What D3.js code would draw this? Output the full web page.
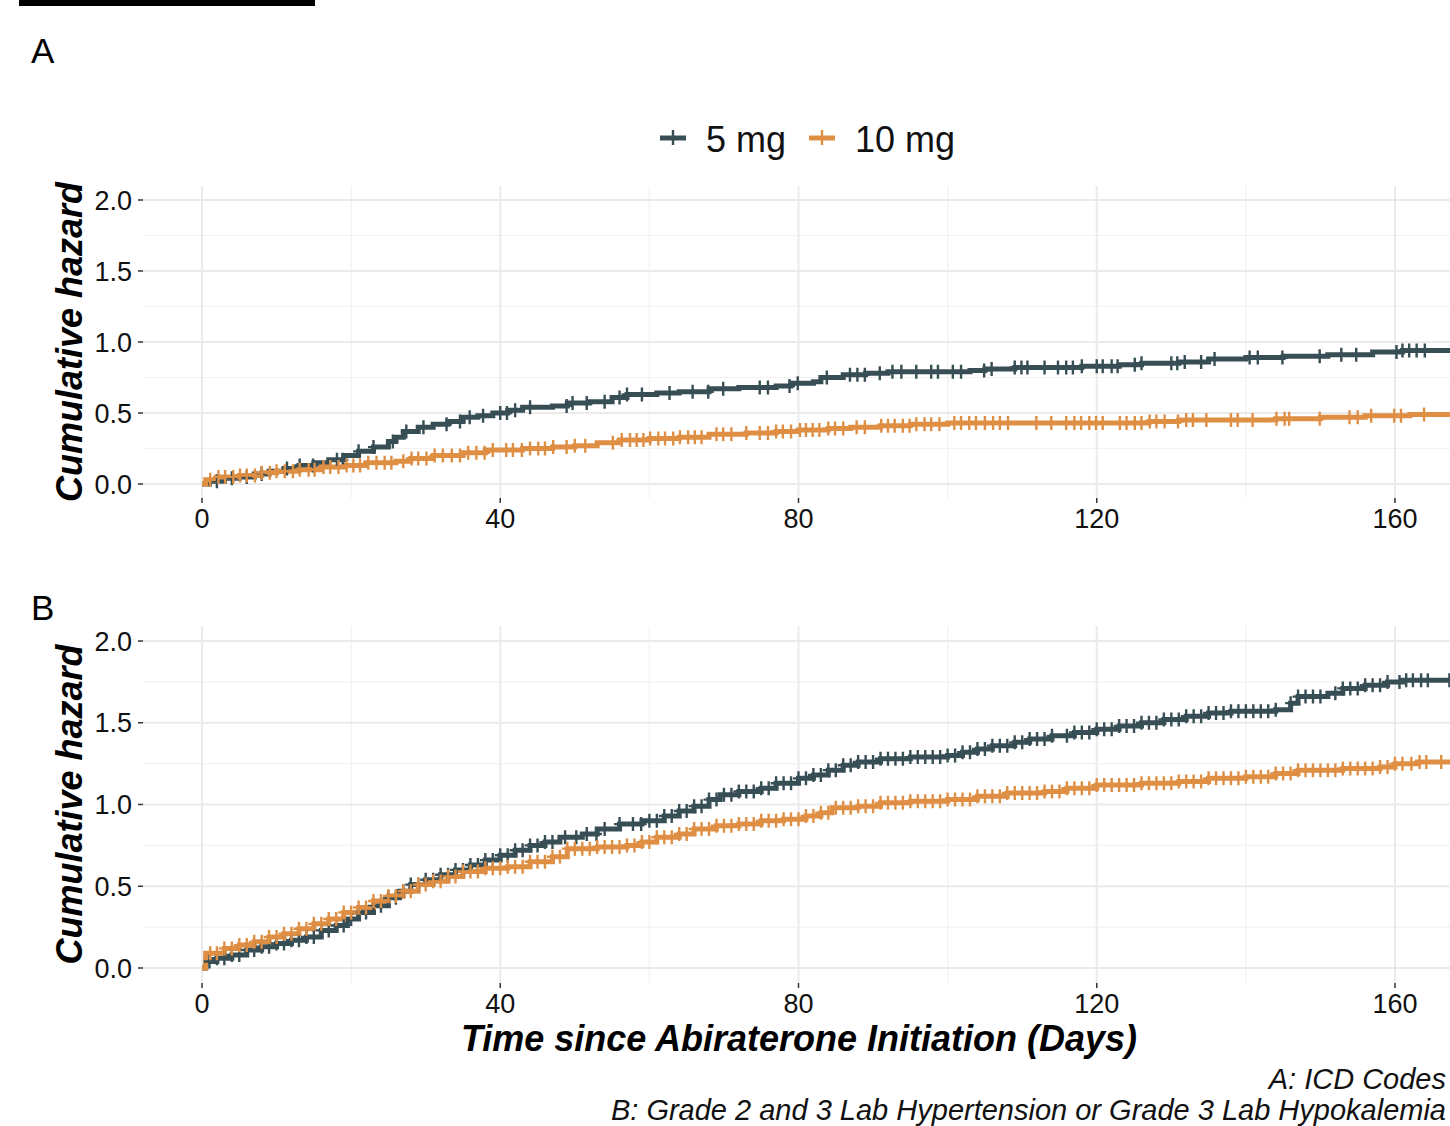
<!DOCTYPE html>
<html>
<head>
<meta charset="utf-8">
<script src="https://cdn.jsdelivr.net/npm/d3@7/dist/d3.min.js"></script>
<style>
  body { margin: 0; background: #fff; }
  svg { display: block; font-family: "Liberation Sans", Arial, Helvetica, sans-serif; }
</style>
</head>
<body>
<div id="chart"></div>
<script>
// groups + colours (JAMA-like palette)
const groups = ['5 mg', '10 mg'];
const groupColors = ['#374E55', '#DF8F44'];

const xTicks = [0, 40, 80, 120, 160];
const xMinor = [20, 60, 100, 140];
const yTicks = [0, 0.5, 1, 1.5, 2];
const yMinor = [0.25, 0.75, 1.25, 1.75];
const yTickLabels = ['0.0', '0.5', '1.0', '1.5', '2.0'];

// Panel A: cumulative hazard steps [day, H]
const stepsA5 = [[0,0],[1,.02],[3,.04],[5,.05],[7,.07],[9,.09],[11,.11],[13,.13],[15,.15],[17,.17],[19,.2],
  [21,.23],[23,.26],[25,.3],[26,.33],[27,.37],[29,.4],[31,.42],[33,.44],[35,.47],[37,.48],[39,.5],[41,.52],
  [43,.54],[47,.55],[49,.57],[52,.58],[55,.61],[57,.63],[61,.64],[64,.65],[68,.67],[72,.68],[77,.69],[79,.71],
  [82,.72],[83,.75],[86,.77],[89,.78],[92,.79],[103,.8],[105,.81],[109,.82],[118,.83],[123,.84],[126,.85],
  [131,.86],[135,.88],[140,.89],[145,.9],[151,.91],[157,.93],[161,.94],[175,.94]];
const stepsA10 = [[0,0],[0.5,.03],[2,.05],[5,.06],[8,.08],[10,.09],[13,.1],[16,.12],[19,.13],[22,.15],[26,.16],
  [28,.18],[31,.2],[35,.22],[38,.24],[43,.25],[47,.26],[50,.27],[53,.29],[56,.31],[60,.32],[64,.33],[68,.35],
  [73,.36],[77,.37],[80,.38],[84,.39],[87,.4],[91,.41],[95,.42],[100,.43],[127,.44],[131,.45],[144,.46],
  [150,.47],[156,.48],[162,.49],[175,.49]];

// Panel B
const stepsB5 = [[0,0],[0.5,.04],[2,.06],[4,.08],[6,.11],[8,.13],[10,.15],[12,.17],[14,.19],[16,.23],[18,.26],
  [19.5,.3],[21,.34],[23,.38],[25,.43],[26.5,.47],[28,.51],[30,.54],[32,.57],[34,.6],[36,.63],[38,.66],[40,.69],
  [42,.72],[44,.75],[46,.77],[48,.8],[51,.82],[53,.85],[56,.88],[59,.9],[62,.93],[64,.96],[66,.99],[68,1.03],
  [69.5,1.06],[72,1.08],[75,1.1],[77,1.13],[80,1.16],[82,1.18],[84,1.21],[86,1.24],[88,1.26],[91,1.28],[95,1.29],
  [100,1.3],[102,1.32],[104,1.34],[106,1.36],[109,1.38],[111,1.4],[114,1.42],[117,1.44],[120,1.46],[123,1.48],
  [126,1.5],[129,1.52],[132,1.54],[135,1.56],[138,1.57],[144,1.58],[146,1.62],[147,1.66],[151,1.68],[153,1.71],
  [156,1.73],[159,1.75],[161,1.76],[175,1.76]];
const stepsB10 = [[0,0],[0.5,.09],[3,.12],[5,.14],[7,.16],[9,.19],[11,.21],[13,.24],[15,.27],[17,.3],[19,.34],
  [21,.37],[23,.41],[25,.44],[27,.47],[29,.51],[31,.53],[33,.56],[35,.59],[38,.61],[41,.62],[44,.65],[47,.68],
  [49,.73],[53,.74],[57,.75],[59,.77],[61,.8],[64,.82],[66,.85],[69,.87],[72,.88],[75,.9],[78,.91],[81,.93],
  [83,.95],[84.5,.98],[88,.99],[91,1.01],[95,1.02],[100,1.03],[104,1.05],[108,1.07],[113,1.08],[116,1.1],
  [120,1.12],[126,1.13],[131,1.14],[135,1.16],[140,1.17],[144,1.19],[147,1.21],[153,1.22],[158,1.23],
  [160,1.25],[163,1.26],[175,1.26]];

// censoring times (days)
const censA5 = [2,4,6,8,11.4,13.1,14.9,18.1,18.9,21,23,25.6,27.4,29.7,32.8,34.6,35.9,37.7,40,40.9,42,44,48.9,
  49.7,51.6,54,56,57,59,62.7,65.8,67.9,69.9,74.8,75.9,78.8,79.9,83.8,86.9,87.9,88.9,90.9,92.6,93.8,95.8,97.8,
  98.7,100.7,101.8,104.9,105.9,109,109.9,110.7,113,114.8,115.9,116.8,118,120,120.8,122,122.8,125.1,126,130,
  130.8,131.8,134,135.8,140.5,141.6,144.9,149.9,152.8,154.8,160.2,161,161.9,162.9,164];
const censA10 = [1.1,2.2,3.1,4.2,5.1,6,7.1,8,9.1,10,11.1,12.2,13.1,14.3,15.1,16.3,17.2,18.3,19.4,20.3,21.2,22.3,
  23.4,24.5,25.4,27,28.1,29,30.1,31.2,32.3,33.5,34.6,35.7,36.8,37.9,39,40.8,41.7,42.9,44,45.1,46,47.1,48.9,50,
  51.4,55.1,56.3,57.4,58.3,59.2,60.1,61.2,62.1,63.2,64.1,65.2,66.1,67,69,69.9,71,73,74.8,75.9,77,77.9,79,80.2,
  81,81.9,82.8,84,84.9,86,87.8,88.9,91.1,92,92.9,94,94.9,95.8,96.9,97.8,98.9,100.9,101.8,102.9,103.8,105,106.1,
  107,108.1,111.9,113.9,115.9,117,117.9,119,119.9,120.8,123.1,124,125.1,126,127.1,128,129.1,130.9,132,132.9,
  134.7,138,138.9,140.9,144.1,145.2,145.8,149.9,153.9,155,156.8,159.9,160.8,163.9];
const censB5 = [1,2,3,4,5,6,7,8,9,10,11,12,13,14,15,16,17,18,19,20,21,22,23,24,25,26,27,28,29,30,31,32,33,34,
  35,36,37,38,39,40,41,42,43,44,45,46,47,48.7,50.2,51.6,52.9,54,56,57.8,58.9,60,61,62,63,64,65,66,67,68,69,70,
  71,72,73,74,75,76,77,78,79,80,81,82,83,84,85,86,87,88,89,90,91,92,93,94,95,96,97,98,99,100,101,102,103,104,
  105,106,107,108,109,110,111,112,113,114,116,117,118,119,120,121,122,123,124,125,126,127,128,129,130,131,132,
  133,134,135,136,137,138,139,140,141,142,143,144,146,147,148,149,150,152,153,154,155,156,157,158,159,160.6,
  161.5,162.4,163.5,164.4,167.3];
const censB10 = [1.1,2,3,4,5,6,7,8,9,10,11,12,13,14,15,16,17,18,19,20,21,22,23,24,25,26,27,28,29,30,31,32,33,
  34,35,36,37,38,39,40,41,42,43,44,45,46,47,48,49,50,51,52,53,54,55,56,57,58,59,60,61,62,63,64,65,66,67,68,69,
  70,71,72,73,74,75,76,77,78,79,80,81,82,83,84,85,86,87,88,89,90,91,92,93,94,95,96,97,98,99,100,101,102,103,
  104,105,106,107,108,109,110,111,112,113,114,115,116,117,118,119,120,121,122,123,124,125,126,127,128,129,130,
  131,132,133,134,135,136,137,138,139,140,141,142,143,144,145,146,147,148,149,150,151,152,153,154,155,156,157,
  158,159,160,161,162.2,163.3,164.2,166.2];

const panels = [
  { tag: 'A', top: 186, bottom: 498, y0: 484, y2: 200, steps: [stepsA5, stepsA10], cens: [censA5, censA10] },
  { tag: 'B', top: 626, bottom: 983, y0: 968, y2: 641, steps: [stepsB5, stepsB10], cens: [censB5, censB10] }
];

const W = 1450, H = 1126;
const panelLeft = 143, panelRight = 1450;

const svg = d3.select('#chart').append('svg')
  .attr('width', W).attr('height', H)
  .style('background', '#fff');

// black strip at the very top
svg.append('rect').attr('x', 19).attr('y', 0).attr('width', 296).attr('height', 6).attr('fill', '#000');

const x = d3.scaleLinear().domain([0, 160]).range([202, 1395]);

// step value lookup for censor marks
const bis = d3.bisector(d => d[0]).right;
const valueAt = (steps, t) => steps[Math.max(0, bis(steps, t) - 1)][1];

panels.forEach((p, pi) => {
  const y = d3.scaleLinear().domain([0, 2]).range([p.y0, p.y2]);
  const g = svg.append('g').attr('class', 'panel-' + p.tag);

  const clipId = 'clip' + pi;
  svg.append('clipPath').attr('id', clipId)
    .append('rect').attr('x', panelLeft).attr('y', p.top)
    .attr('width', panelRight - panelLeft).attr('height', p.bottom - p.top);

  // grid
  g.selectAll('line.ymin').data(yMinor).join('line').attr('class', 'ymin')
    .attr('x1', panelLeft).attr('x2', panelRight)
    .attr('y1', d => y(d)).attr('y2', d => y(d))
    .attr('stroke', '#F2F2F2').attr('stroke-width', 1.2);
  g.selectAll('line.xmin').data(xMinor).join('line').attr('class', 'xmin')
    .attr('x1', d => x(d)).attr('x2', d => x(d))
    .attr('y1', p.top).attr('y2', p.bottom)
    .attr('stroke', '#F2F2F2').attr('stroke-width', 1.2);
  g.selectAll('line.ymaj').data(yTicks).join('line').attr('class', 'ymaj')
    .attr('x1', panelLeft).attr('x2', panelRight)
    .attr('y1', d => y(d)).attr('y2', d => y(d))
    .attr('stroke', '#EBEBEB').attr('stroke-width', 2);
  g.selectAll('line.xmaj').data(xTicks).join('line').attr('class', 'xmaj')
    .attr('x1', d => x(d)).attr('x2', d => x(d))
    .attr('y1', p.top).attr('y2', p.bottom)
    .attr('stroke', '#EBEBEB').attr('stroke-width', 2);

  // axis ticks
  g.selectAll('line.ytick').data(yTicks).join('line').attr('class', 'ytick')
    .attr('x1', 138).attr('x2', 143)
    .attr('y1', d => y(d)).attr('y2', d => y(d))
    .attr('stroke', '#333').attr('stroke-width', 1.5);
  g.selectAll('line.xtick').data(xTicks).join('line').attr('class', 'xtick')
    .attr('x1', d => x(d)).attr('x2', d => x(d))
    .attr('y1', p.bottom).attr('y2', p.bottom + 5)
    .attr('stroke', '#333').attr('stroke-width', 1.5);

  g.selectAll('text.ylab').data(yTicks).join('text').attr('class', 'ylab')
    .attr('x', 132).attr('y', d => y(d)).attr('dy', '0.36em')
    .attr('text-anchor', 'end').attr('font-size', 27).attr('fill', '#111')
    .text((d, i) => yTickLabels[i]);
  g.selectAll('text.xlab').data(xTicks).join('text').attr('class', 'xlab')
    .attr('x', d => x(d)).attr('y', p.bottom + 30)
    .attr('text-anchor', 'middle').attr('font-size', 27).attr('fill', '#111')
    .text(d => d);

  // y title
  g.append('text')
    .attr('transform', `translate(82,${(p.top + p.bottom) / 2}) rotate(-90)`)
    .attr('text-anchor', 'middle')
    .attr('font-size', 36).attr('font-weight', 'bold').attr('font-style', 'italic')
    .text('Cumulative hazard');

  // tag
  svg.append('text').attr('x', 31).attr('y', pi === 0 ? 63 : 620)
    .attr('font-size', 35).text(p.tag);

  // curves
  const plot = g.append('g').attr('clip-path', `url(#${clipId})`);
  const line = d3.line().x(d => x(d[0])).y(d => y(d[1])).curve(d3.curveStepAfter);
  p.steps.forEach((s, gi) => {
    plot.append('path').datum(s)
      .attr('d', line)
      .attr('fill', 'none')
      .attr('stroke', groupColors[gi])
      .attr('stroke-width', 5);
  });
  p.cens.forEach((c, gi) => {
    plot.selectAll('path.cens' + gi).data(c).join('path').attr('class', 'cens' + gi)
      .attr('d', t => {
        const cx = x(t), cy = y(valueAt(p.steps[gi], t));
        return `M${cx - 5.5},${cy}H${cx + 5.5}M${cx},${cy - 7}V${cy + 7}`;
      })
      .attr('stroke', groupColors[gi]).attr('stroke-width', 2.4).attr('fill', 'none');
  });
});

// legend
const legendX = [660, 809];
const legend = svg.append('g').attr('class', 'legend');
groups.forEach((name, i) => {
  const lx = legendX[i];
  legend.append('path')
    .attr('d', `M${lx},138H${lx + 26}`)
    .attr('stroke', groupColors[i]).attr('stroke-width', 5);
  legend.append('path')
    .attr('d', `M${lx + 7},138H${lx + 19}M${lx + 13},130V145`)
    .attr('stroke', groupColors[i]).attr('stroke-width', 2.4);
  legend.append('text')
    .attr('x', lx + 46).attr('y', 152)
    .attr('font-size', 36).attr('fill', '#111')
    .text(name);
});

// x title
svg.append('text')
  .attr('x', 799).attr('y', 1051)
  .attr('text-anchor', 'middle')
  .attr('font-size', 36).attr('font-weight', 'bold').attr('font-style', 'italic')
  .text('Time since Abiraterone Initiation (Days)');

// caption (kept just inside the right edge)
const captionLines = ['A: ICD Codes', 'B: Grade 2 and 3 Lab Hypertension or Grade 3 Lab Hypokalemia'];
svg.selectAll('text.caption').data(captionLines).join('text').attr('class', 'caption')
  .attr('x', 1446).attr('y', (d, i) => 1089 + i * 31)
  .attr('text-anchor', 'end')
  .attr('font-size', 29).attr('font-style', 'italic').attr('fill', '#111')
  .text(d => d);
</script>
</body>
</html>
